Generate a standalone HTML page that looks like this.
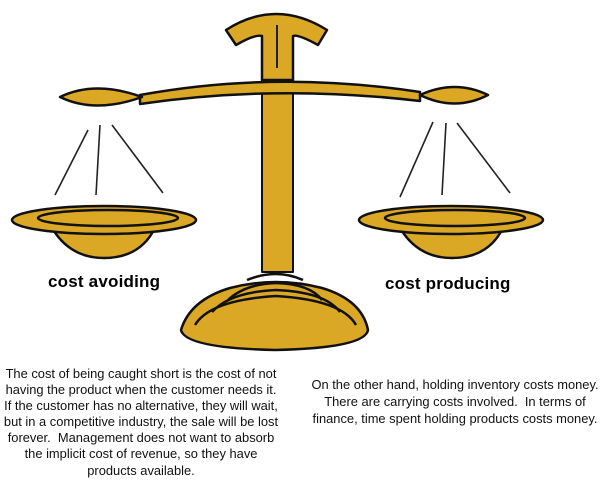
<!DOCTYPE html>
<html><head><meta charset="utf-8"><style>
html,body{margin:0;padding:0;background:#fff;}
body{width:610px;height:483px;position:relative;overflow:hidden;font-family:"Liberation Sans",sans-serif;}
svg{position:absolute;left:0;top:0;}
.lbl{position:absolute;font-weight:bold;font-size:17px;color:#000;letter-spacing:0.2px;white-space:nowrap;}
.txt{position:absolute;font-size:12.9px;text-align:center;color:#111;white-space:nowrap;}
</style></head><body>
<svg width="610" height="483" viewBox="0 0 610 483">
<g fill="#DBA826" stroke="#111" stroke-width="2.5" stroke-linejoin="round">
<path d="M226 30 Q276 -2 327 30 L318 45 Q298 34 293 36 L293 80 L262 80 L262 36 Q255 34 236 45 Z"/>
<rect x="262" y="80" width="31" height="192" stroke-width="2"/>
<path d="M140 95 Q276 70 420 92 L420 101 Q276 84 140 104 Z"/>
<path d="M60 97 Q95 80 142 97 Q95 114 60 97 Z"/>
<path d="M420 95 Q455 79 488 95 Q455 112 420 95 Z"/>
<path d="M181 330 Q190 300 230 288 Q276 276 322 288 Q362 300 368 330 Q365 348 275 350 Q185 348 181 330 Z"/>
<path d="M195 325 Q210 300 276 296 Q342 300 356 325" fill="none" stroke-width="2.5"/>
<path d="M212 312 Q230 292 276 290 Q325 292 340 312" fill="none" stroke-width="2.5"/>
<path d="M228 300 Q245 284 276 283 Q310 284 322 300" fill="none" stroke-width="2.5"/>
<path d="M247 280 Q276 268 303 280" fill="none" stroke-width="2.5"/>
<path d="M52 228 Q70 258 104 258 Q140 258 155 228 Z"/>
<ellipse cx="104" cy="220" rx="92" ry="14"/>
<ellipse cx="108" cy="218" rx="70" ry="8" fill="none"/>
<path d="M400 228 Q418 258 452 258 Q488 258 503 228 Z"/>
<ellipse cx="451" cy="220" rx="92" ry="14"/>
<ellipse cx="455" cy="218" rx="70" ry="8" fill="none"/>
</g>
<g stroke="#222" stroke-width="1.6">
<line x1="88" y1="130" x2="55" y2="195"/><line x1="100" y1="125" x2="96" y2="195"/><line x1="112" y1="125" x2="163" y2="193"/>
<line x1="433" y1="122" x2="400" y2="197"/><line x1="446" y1="123" x2="442" y2="195"/><line x1="457" y1="123" x2="510" y2="193"/>
<line x1="277" y1="25" x2="277" y2="68" stroke-width="2"/>
</g>
</svg>
<div class="lbl" style="left:48px;top:272px;">cost avoiding</div>
<div class="lbl" style="left:385px;top:274px;">cost producing</div>
<div class="txt" style="left:-9px;top:366px;width:300px;line-height:16.1px;">The cost of being caught short is the cost of not<br>having the product when the customer needs it.<br>If the customer has no alternative, they will wait,<br>but in a competitive industry, the sale will be lost<br>forever.&nbsp; Management does not want to absorb<br>the implicit cost of revenue, so they have<br>products available.</div>
<div class="txt" style="left:305px;top:376px;width:300px;line-height:17px;">On the other hand, holding inventory costs money.<br>There are carrying costs involved.&nbsp; In terms of<br>finance, time spent holding products costs money.</div>
</body></html>
